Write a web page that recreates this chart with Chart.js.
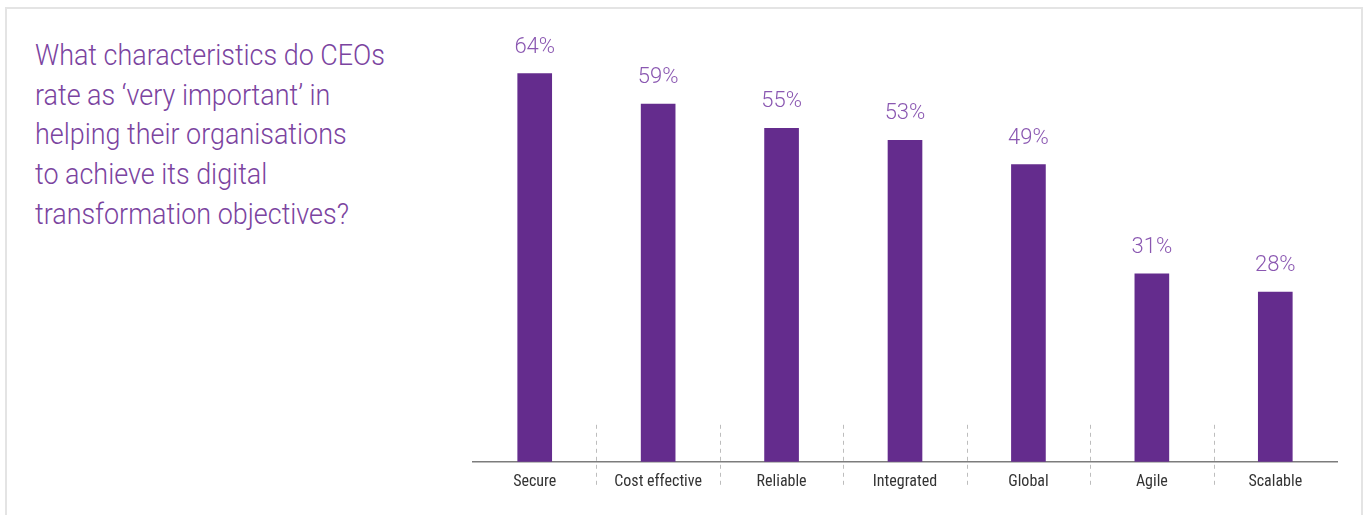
<!DOCTYPE html>
<html>
<head>
<meta charset="utf-8">
<script src="https://cdn.jsdelivr.net/npm/chart.js@4"></script>
<style>
  html, body { margin: 0; padding: 0; background: #fff; }
  body { width: 1367px; height: 515px; position: relative; overflow: hidden; }
  #frame { position: absolute; left: 5px; top: 7px; width: 1358px; height: 520px; border: 2px solid #e4e4e4; box-sizing: border-box; }
  #title { position: absolute; left: 35px; top: 35px; font-family: Roboto, "Open Sans", sans-serif; font-weight: 300; font-size: 30px; line-height: 39.7px; color: #7b449f; white-space: nowrap; transform-origin: 0 0; }
  #wrap { position: absolute; left: 0; top: 0; width: 1367px; height: 515px; }
</style>
</head>
<body>
<div id="frame"></div>
<div id="title">What characteristics do CEOs<br>rate as ‘very important’ in<br>helping their organisations<br>to achieve its digital<br>transformation objectives?</div>
<div id="wrap"><canvas id="c" width="1367" height="515"></canvas></div>
<script>
const categories = ["Secure", "Cost effective", "Reliable", "Integrated", "Global", "Agile", "Scalable"];
const values = [64, 59, 55, 53, 49, 31, 28];
const valueLabels = ["64%", "59%", "55%", "53%", "49%", "31%", "28%"];

// fit title width to reference
(function(){
  const t = document.getElementById('title');
  const span = document.createElement('span');
  span.style.font = getComputedStyle(t).font;
  span.style.fontWeight = '300';
  span.style.position = 'absolute'; span.style.visibility = 'hidden'; span.style.whiteSpace = 'nowrap';
  span.textContent = 'What characteristics do CEOs';
  document.body.appendChild(span);
  const w = span.getBoundingClientRect().width;
  span.remove();
  if (w > 0) t.style.transform = 'scaleX(' + (350 / w) + ')';
})();

const valueLabelPlugin = {
  id: 'valueLabels',
  afterDatasetsDraw(chart) {
    const ctx = chart.ctx;
    const meta = chart.getDatasetMeta(0);
    ctx.save();
    ctx.fillStyle = '#8a57b1';
    ctx.font = '300 22px Roboto, "Open Sans", sans-serif';
    ctx.textAlign = 'center';
    ctx.textBaseline = 'alphabetic';
    meta.data.forEach((bar, i) => {
      ctx.fillText(valueLabels[i], bar.x, bar.y - 21);
    });
    ctx.restore();
  }
};

const separatorPlugin = {
  id: 'separators',
  afterDraw(chart) {
    const xs = chart.scales.x;
    const area = chart.chartArea;
    const ctx = chart.ctx;
    ctx.save();
    ctx.strokeStyle = '#bdbdbd';
    ctx.lineWidth = 1;
    ctx.setLineDash([4, 4]);
    for (let i = 1; i < categories.length; i++) {
      const x = Math.round((xs.getPixelForTick(i - 1) + xs.getPixelForTick(i)) / 2) + 0.5;
      ctx.beginPath();
      ctx.moveTo(x, area.bottom - 37);
      ctx.lineTo(x, area.bottom + 27);
      ctx.stroke();
    }
    ctx.restore();
  }
};

new Chart(document.getElementById('c'), {
  type: 'bar',
  data: {
    labels: categories,
    datasets: [{
      data: values,
      backgroundColor: '#642c8d',
      barThickness: 34,
      borderWidth: 0
    }]
  },
  options: {
    responsive: false,
    devicePixelRatio: 1,
    animation: false,
    layout: { padding: { left: 473, right: 30, top: 30, bottom: 12 } },
    plugins: { legend: { display: false }, tooltip: { enabled: false }, title: { display: false } },
    scales: {
      x: {
        grid: { display: false, drawTicks: false },
        border: { display: true, color: '#7c7c7c', width: 1.5 },
        ticks: {
          padding: 11,
          color: '#333333',
          font: { family: '"Liberation Sans Narrow", "Roboto Condensed", Roboto, sans-serif', size: 16 }
        }
      },
      y: {
        display: false,
        min: 0,
        max: 71.2
      }
    }
  },
  plugins: [valueLabelPlugin, separatorPlugin]
});
</script>
</body>
</html>
